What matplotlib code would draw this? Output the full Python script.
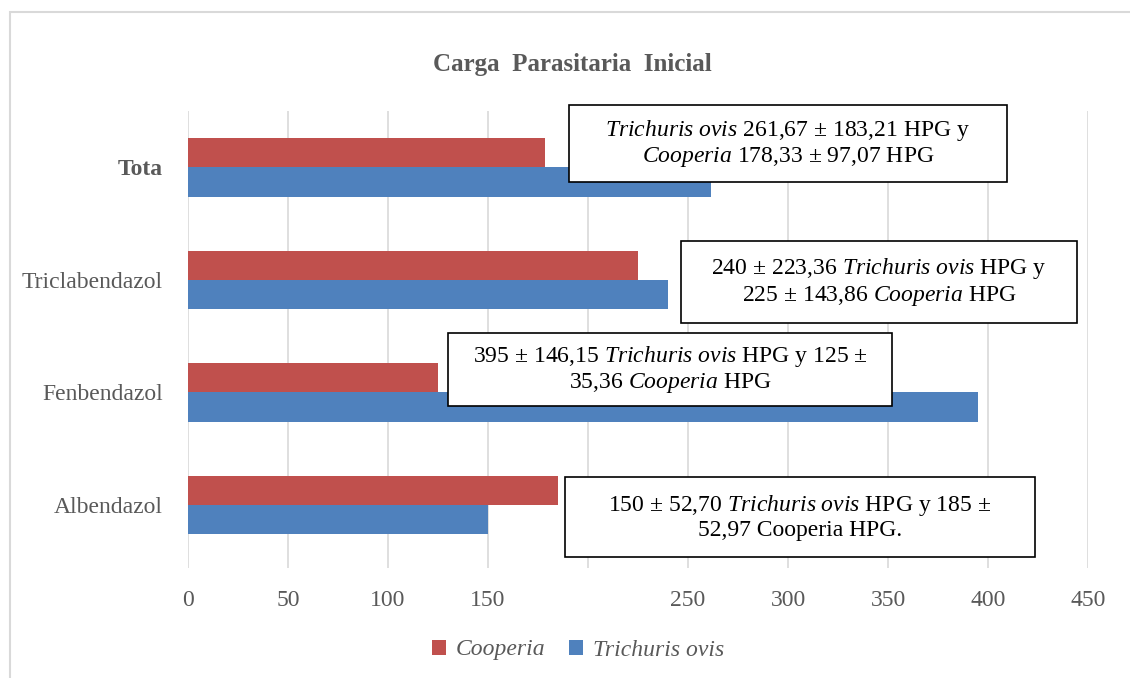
import matplotlib.pyplot as plt
from matplotlib.patches import Rectangle

plt.rcParams['font.family'] = ['Liberation Serif', 'DejaVu Serif']
plt.rcParams['mathtext.fontset'] = 'custom'
plt.rcParams['mathtext.rm'] = 'Liberation Serif'
plt.rcParams['mathtext.it'] = 'Liberation Serif:italic'

# datos
categorias = ['Albendazol', 'Fenbendazol', 'Triclabendazol', 'Tota']
cooperia = [185, 125, 225, 178.33]
trichuris = [150, 395, 240, 261.67]
xticks = [0, 50, 100, 150, 200, 250, 300, 350, 400, 450]
xticklabels = ['0', '50', '100', '150', '', '250', '300', '350', '400', '450']

notas = [
    r'$\mathit{Trichuris\ ovis}$ 261,67 ± 183,21 HPG y' + '\n' + r'$\mathit{Cooperia}$ 178,33 ± 97,07 HPG',
    r'240 ± 223,36 $\mathit{Trichuris\ ovis}$ HPG y' + '\n' + r'225 ± 143,86 $\mathit{Cooperia}$ HPG',
    r'395 ± 146,15 $\mathit{Trichuris\ ovis}$ HPG y 125 ±' + '\n' + r'35,36 $\mathit{Cooperia}$ HPG',
    r'150 ± 52,70 $\mathit{Trichuris\ ovis}$ HPG y 185 ±' + '\n' + '52,97 Cooperia HPG.',
]
# cajas en pixeles de la figura (x0, y0, x1, y1)
cajas = [(569, 105, 1007, 182), (681, 241, 1077, 323), (448, 333, 892, 406), (565, 477, 1035, 557)]

W, H = 1130, 678
rojo = '#c0504d'
azul = '#4f81bd'
gris = '#595959'

fig = plt.figure(figsize=(11.3, 6.78), dpi=100)
ax = fig.add_axes([188 / W, 1 - 568 / H, 900 / W, 457 / H])

y = list(range(len(categorias)))
h = 0.26
ax.barh([i + h / 2 for i in y], cooperia, height=h, color=rojo, label='Cooperia', zorder=3)
ax.barh([i - h / 2 for i in y], trichuris, height=h, color=azul, label='Trichuris ovis', zorder=3)

ax.set_xlim(0, 450)
ax.set_ylim(-0.56, 3.5)
ax.set_xticks(xticks)
ax.set_xticklabels(xticklabels, fontsize=17, color=gris)
ax.set_yticks(y)
ax.set_yticklabels(categorias, fontsize=17, color=gris)
ax.get_yticklabels()[3].set_fontweight('bold')
ax.tick_params(length=0)
ax.tick_params(axis='x', pad=16)
ax.tick_params(axis='y', pad=18)
ax.grid(axis='x', color='#d9d9d9', linewidth=1.2, zorder=0)
for s in ax.spines.values():
    s.set_visible(False)

fig.text(572 / W, 1 - 65 / H, 'Carga  Parasitaria  Inicial', ha='center', va='center',
         fontsize=18, fontweight='bold', color=gris)

for (x0, y0, x1, y1), t in zip(cajas, notas):
    fig.patches.append(Rectangle((x0 / W, 1 - y1 / H), (x1 - x0) / W, (y1 - y0) / H,
                                 transform=fig.transFigure, facecolor='white',
                                 edgecolor='black', linewidth=1.2, zorder=5))
    fig.text((x0 + x1) / 2 / W, 1 - (y0 + y1) / 2 / H, t, ha='center', va='center',
             multialignment='center', fontsize=17, color='black', zorder=6, linespacing=1.12)

leg = fig.legend(loc='center', bbox_to_anchor=(578 / W, 1 - 650 / H), ncol=2, frameon=False,
                 prop={'style': 'italic', 'size': 17}, handlelength=0.6, handleheight=0.6,
                 handletextpad=0.4, columnspacing=1.0)
for t in leg.get_texts():
    t.set_color(gris)

fig.patches.append(Rectangle((10 / W, -0.1), 1.2, 1 - 12 / H + 0.1, transform=fig.transFigure,
                             fill=False, edgecolor='#d9d9d9', linewidth=1.5))

fig.savefig('out.png', dpi=100)
